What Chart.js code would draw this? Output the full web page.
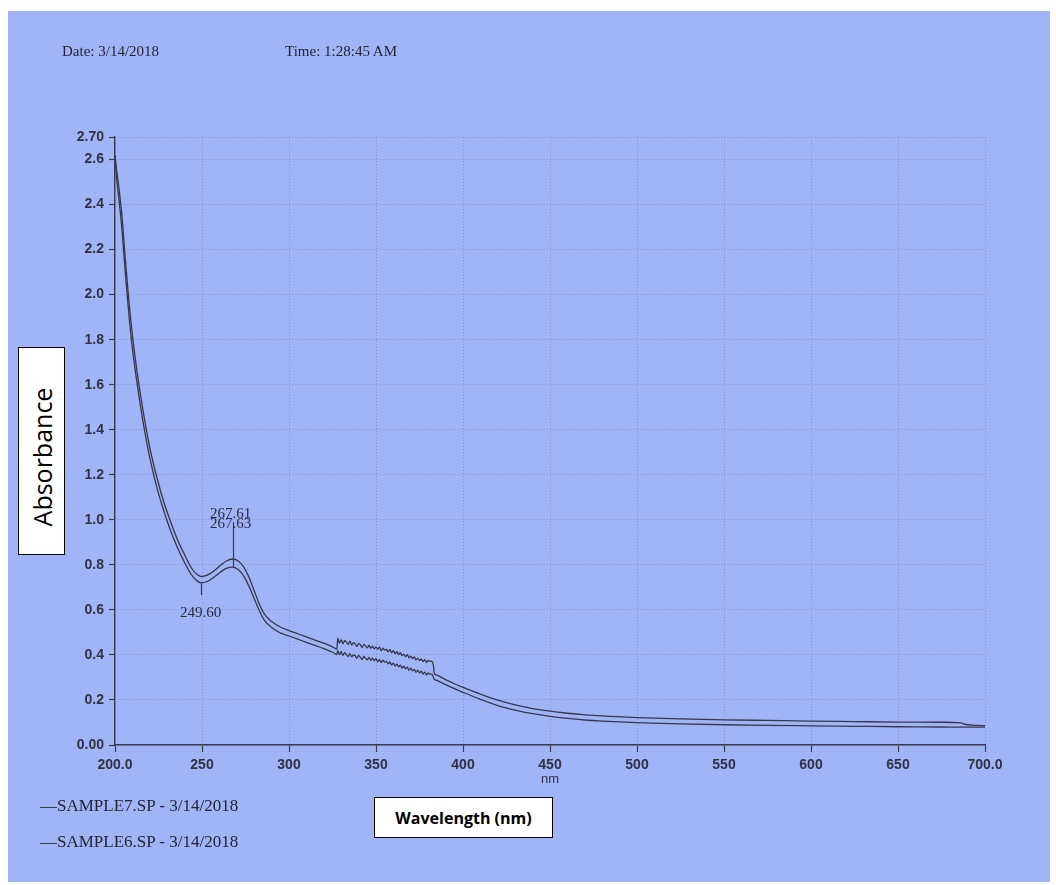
<!DOCTYPE html>
<html>
<head>
<meta charset="utf-8">
<script src="https://cdn.jsdelivr.net/npm/chart.js@4.4.1/dist/chart.umd.min.js"></script>
<style>
  html, body { margin: 0; padding: 0; background: #fff; }
  body { width: 1056px; height: 885px; position: relative; overflow: hidden; }
  #paper { position: absolute; left: 8px; top: 11px; width: 1042px; height: 871px; background: #a1b4f7; }
  #chart { position: absolute; left: 0; top: 0; }
  .serif { position: absolute; font-family: "Liberation Serif", serif; color: #23252f; white-space: nowrap; }
  .box { position: absolute; box-sizing: border-box; background: #fff; border: 1.5px solid #000; }
  #ylab { left: 18px; top: 347px; width: 47px; height: 208px; }
  #ylab span { position: absolute; left: 50%; top: 53%; transform: translate(-50%, -50%) rotate(-90deg);
    font-family: "Open Sans", sans-serif; font-size: 25px; color: #000; white-space: nowrap; }
  #xlab { left: 374px; top: 797px; width: 179px; height: 41px; display: flex; align-items: center; justify-content: center;
    font-family: "Open Sans", sans-serif; font-weight: bold; font-size: 16px; color: #000; }
</style>
</head>
<body>
<div id="paper"></div>
<canvas id="chart" width="1056" height="885"></canvas>
<div class="serif" style="left:62px; top:43px; font-size:15px;">Date: 3/14/2018</div>
<div class="serif" style="left:285px; top:43px; font-size:15px;">Time: 1:28:45 AM</div>
<div class="serif" style="left:40px; top:796px; font-size:17px;">—SAMPLE7.SP - 3/14/2018</div>
<div class="serif" style="left:40px; top:832px; font-size:17px;">—SAMPLE6.SP - 3/14/2018</div>
<div class="box" id="ylab"><span>Absorbance</span></div>
<div class="box" id="xlab">Wavelength (nm)</div>
<script>
// wavelength grid (nm), split in three parts
var wlHead = [200, 201, 202, 204, 206, 208, 210, 213, 216, 220, 224, 228, 232, 236, 240, 244, 247, 249.6, 253, 257,
  261, 264, 267.6, 271, 274, 277, 280, 283, 286, 290, 295, 300, 305, 310, 315, 320, 325, 327.5];
var wlNoise = [328, 329, 330, 331, 332, 333, 334, 335, 336, 337, 338, 339, 340, 341, 342, 343, 344, 345, 346, 347,
  348, 349, 350, 351, 352, 353, 354, 355, 356, 357, 358, 359, 360, 361, 362, 363, 364, 365, 366, 367,
  368, 369, 370, 371, 372, 373, 374, 375, 376, 377, 378, 379, 380, 381, 382, 383];
var wlTail = [383.5, 385, 390, 395, 400, 410, 420, 430, 440, 450, 460, 470, 480, 500, 525, 550, 575, 600, 625, 650,
  675, 685, 690, 695, 700];

// SAMPLE7 (upper trace)
var s7Head = [2.62, 2.55, 2.49, 2.35, 2.15, 1.97, 1.82, 1.64, 1.49, 1.32, 1.19, 1.08, 0.99, 0.91, 0.845, 0.785, 0.758, 0.748, 0.754, 0.774,
  0.80, 0.817, 0.826, 0.816, 0.79, 0.745, 0.685, 0.625, 0.58, 0.548, 0.524, 0.508, 0.494, 0.48, 0.466, 0.452, 0.436, 0.426];
var s7Noise = [0.474, 0.452, 0.468, 0.449, 0.463, 0.457, 0.446, 0.461, 0.444, 0.455,
  0.449, 0.438, 0.451, 0.445, 0.433, 0.447, 0.440, 0.431, 0.443, 0.429,
  0.439, 0.427, 0.436, 0.425, 0.434, 0.419, 0.430, 0.421, 0.424, 0.414,
  0.423, 0.410, 0.419, 0.406, 0.414, 0.401, 0.410, 0.397, 0.404, 0.392,
  0.401, 0.387, 0.395, 0.384, 0.391, 0.378, 0.386, 0.375, 0.382, 0.370,
  0.379, 0.367, 0.376, 0.371, 0.372, 0.352];
var s7Tail = [0.318, 0.31, 0.29, 0.272, 0.256, 0.226, 0.199, 0.178, 0.162, 0.15, 0.141, 0.134, 0.129, 0.122, 0.116, 0.112, 0.109, 0.106, 0.104, 0.102,
  0.101, 0.099, 0.09, 0.087, 0.086];

// SAMPLE6 (lower trace)
var s6Head = [2.60, 2.51, 2.44, 2.29, 2.09, 1.91, 1.76, 1.59, 1.44, 1.275, 1.145, 1.04, 0.95, 0.875, 0.81, 0.755, 0.73, 0.72, 0.726, 0.746,
  0.77, 0.784, 0.79, 0.778, 0.75, 0.705, 0.65, 0.595, 0.552, 0.522, 0.498, 0.484, 0.47, 0.456, 0.442, 0.428, 0.412, 0.402];
var s6Noise = [0.419, 0.401, 0.414, 0.398, 0.410, 0.402, 0.393, 0.406, 0.391, 0.400,
  0.396, 0.386, 0.398, 0.389, 0.380, 0.393, 0.385, 0.378, 0.389, 0.376,
  0.386, 0.374, 0.383, 0.370, 0.379, 0.366, 0.377, 0.368, 0.371, 0.360,
  0.369, 0.355, 0.364, 0.351, 0.359, 0.347, 0.355, 0.342, 0.350, 0.338,
  0.346, 0.332, 0.341, 0.329, 0.336, 0.323, 0.332, 0.320, 0.328, 0.315,
  0.324, 0.311, 0.320, 0.314, 0.315, 0.300];
var s6Tail = [0.292, 0.287, 0.268, 0.25, 0.234, 0.203, 0.175, 0.155, 0.139, 0.127, 0.118, 0.111, 0.106, 0.099, 0.094, 0.09, 0.087, 0.085, 0.083, 0.081,
  0.08, 0.079, 0.079, 0.079, 0.079];

// axis ticks
var xTickValues = [200, 250, 300, 350, 400, 450, 500, 550, 600, 650, 700];
var xTickLabels = ['200.0', '250', '300', '350', '400', '450', '500', '550', '600', '650', '700.0'];
var yTickValues = [0, 0.2, 0.4, 0.6, 0.8, 1.0, 1.2, 1.4, 1.6, 1.8, 2.0, 2.2, 2.4, 2.6, 2.7];
var yTickLabels = ['0.00', '0.2', '0.4', '0.6', '0.8', '1.0', '1.2', '1.4', '1.6', '1.8', '2.0', '2.2', '2.4', '2.6', '2.70'];

// peak / valley picks
var valleyNm = 249.6;
var valleyLine = [0.72, 0.665];
var valleyText = ['249.60'];
var valleyTextAbs = [0.585];
var peakNm = 267.6;
var peakLine = [0.79, 0.99];
var peakText = ['267.61', '267.63'];
var peakTextAbs = [1.026, 0.981];

var lineColor = '#353849';
var axisColor = '#3a3d4c';
var gridColor = 'rgba(95,110,175,0.45)';
var tickText = '#2f3242';

function toPoints(xs, ys) {
    return xs.map(function (x, i) { return {x: x, y: ys[i]}; });
}

var wl = wlHead.concat(wlNoise, wlTail);
var s7 = s7Head.concat(s7Noise, s7Tail);
var s6 = s6Head.concat(s6Noise, s6Tail);

var markerPlugin = {
    id: 'markers',
    afterDatasetsDraw: function (chart) {
        var ctx = chart.ctx, x = chart.scales.x, y = chart.scales.y;
        ctx.save();
        ctx.strokeStyle = lineColor;
        ctx.lineWidth = 1.2;
        ctx.fillStyle = '#2b2d3a';
        ctx.font = '15px "Liberation Serif"';
        ctx.textAlign = 'center';
        ctx.textBaseline = 'middle';

        var vx = Math.round(x.getPixelForValue(valleyNm)) + 0.5;
        ctx.beginPath();
        ctx.moveTo(vx, y.getPixelForValue(valleyLine[0]));
        ctx.lineTo(vx, y.getPixelForValue(valleyLine[1]));
        ctx.stroke();
        valleyText.forEach(function (t, i) {
            ctx.fillText(t, vx - 1, y.getPixelForValue(valleyTextAbs[i]));
        });

        var px = Math.round(x.getPixelForValue(peakNm)) + 0.5;
        ctx.beginPath();
        ctx.moveTo(px, y.getPixelForValue(peakLine[0]));
        ctx.lineTo(px, y.getPixelForValue(peakLine[1]));
        ctx.stroke();
        peakText.forEach(function (t, i) {
            ctx.fillText(t, px - 3, y.getPixelForValue(peakTextAbs[i]));
        });
        ctx.restore();
    }
};

var tickFont = {family: '"Liberation Sans", Arial, sans-serif', size: 14, weight: 'bold'};

new Chart(document.getElementById('chart'), {
    type: 'scatter',
    data: {
        datasets: [{
            label: 'SAMPLE7.SP - 3/14/2018',
            data: toPoints(wl, s7),
            showLine: true,
            borderColor: lineColor,
            borderWidth: 1.3,
            pointRadius: 0,
            cubicInterpolationMode: 'monotone'
        }, {
            label: 'SAMPLE6.SP - 3/14/2018',
            data: toPoints(wl, s6),
            showLine: true,
            borderColor: lineColor,
            borderWidth: 1.3,
            pointRadius: 0,
            cubicInterpolationMode: 'monotone'
        }]
    },
    options: {
        responsive: false,
        animation: false,
        layout: {padding: {left: 0, top: 137, right: 71, bottom: 95}},
        plugins: {legend: {display: false}, tooltip: {enabled: false}},
        scales: {
            x: {
                type: 'linear',
                min: 200,
                max: 700,
                afterFit: function (s) { s.height = 45; },
                afterBuildTicks: function (s) {
                    s.ticks = xTickValues.map(function (v) { return {value: v}; });
                },
                ticks: {
                    autoSkip: false,
                    maxRotation: 0,
                    padding: 5,
                    color: tickText,
                    font: tickFont,
                    callback: function (v) { return xTickLabels[xTickValues.indexOf(v)]; }
                },
                grid: {color: gridColor, lineWidth: 1, tickLength: 7, tickColor: axisColor, tickWidth: 1.2, tickBorderDash: []},
                border: {color: axisColor, width: 1.4, dash: [1, 2]},
                title: {
                    display: true,
                    text: 'nm',
                    color: tickText,
                    font: {family: '"Liberation Sans", Arial, sans-serif', size: 13},
                    padding: {top: 0, bottom: 3}
                }
            },
            y: {
                min: 0,
                max: 2.7,
                afterFit: function (s) { s.width = 115; },
                afterBuildTicks: function (s) {
                    s.ticks = yTickValues.map(function (v) { return {value: v}; });
                },
                ticks: {
                    autoSkip: false,
                    padding: 5,
                    color: tickText,
                    font: tickFont,
                    callback: function (v) { return yTickLabels[yTickValues.indexOf(v)]; }
                },
                grid: {color: gridColor, lineWidth: 1, tickLength: 6, tickColor: axisColor, tickWidth: 1.2, tickBorderDash: []},
                border: {color: axisColor, width: 1.4, dash: [1, 2]}
            }
        }
    },
    plugins: [markerPlugin]
});
</script>
</body>
</html>
